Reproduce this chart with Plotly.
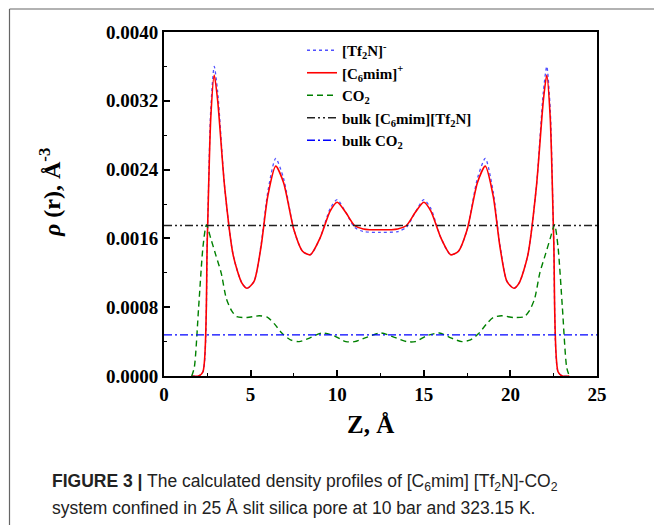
import plotly.graph_objects as go

# Density profiles across a 25 Å slit pore
z_cation = [1.6, 2.0, 2.25, 2.5, 2.7, 2.9, 3.1, 3.5, 4.0, 4.5, 4.8, 5.2, 5.6, 6.0, 6.45, 6.9, 7.5,
            8.0, 8.45, 9.0, 9.6, 10.0, 10.5, 11.0, 11.5, 12.5, 13.5, 14.0, 14.5, 15.0, 15.4,
            16.0, 16.55, 17.0, 17.5, 18.1, 18.55, 19.0, 19.4, 19.8, 20.2, 20.5, 21.0, 21.5,
            21.9, 22.1, 22.3, 22.5, 22.75, 23.0, 23.4]
rho_cation = [0.0, 0.0, 0.00005, 0.0016, 0.0030, 0.0035, 0.0032, 0.0022, 0.0014, 0.00108, 0.00102,
              0.00110, 0.00150, 0.00210, 0.00244, 0.00225, 0.00170, 0.00145, 0.00141, 0.00160,
              0.00192, 0.00202, 0.00190, 0.00175, 0.00171, 0.00170, 0.00171, 0.00175, 0.00190,
              0.00202, 0.00192, 0.00160, 0.00141, 0.00145, 0.00170, 0.00225, 0.00244, 0.00210,
              0.00150, 0.00110, 0.00102, 0.00108, 0.0014, 0.0022, 0.0032, 0.0035, 0.0030, 0.0016,
              0.00005, 0.0, 0.0]

z_anion = z_cation
rho_anion = [0.0, 0.0, 0.00005, 0.0016, 0.0031, 0.0036, 0.0033, 0.0022, 0.0014, 0.00108, 0.00102,
             0.00110, 0.00152, 0.00215, 0.00253, 0.00230, 0.00170, 0.00145, 0.00141, 0.00160,
             0.00195, 0.00205, 0.00190, 0.00173, 0.00168, 0.00167, 0.00168, 0.00173, 0.00190,
             0.00205, 0.00195, 0.00160, 0.00141, 0.00145, 0.00170, 0.00230, 0.00253, 0.00215,
             0.00152, 0.00110, 0.00102, 0.00108, 0.0014, 0.0022, 0.0033, 0.0036, 0.0031, 0.0016,
             0.00005, 0.0, 0.0]

z_co2 = [1.6, 1.75, 2.0, 2.25, 2.45, 2.7, 3.0, 3.3, 3.6, 3.9, 4.2, 4.8, 5.5, 6.0, 6.4, 6.8, 7.3,
         7.8, 8.4, 9.1, 9.8, 10.5, 11.0, 11.7, 12.5, 13.3, 14.0, 14.5, 15.2, 15.9, 16.6, 17.2,
         17.7, 18.2, 18.6, 19.0, 19.5, 20.2, 20.8, 21.1, 21.4, 21.7, 22.0, 22.3, 22.55, 22.75,
         23.0, 23.25, 23.4]
rho_co2 = [0.0, 0.0001, 0.0008, 0.0015, 0.00176, 0.0016, 0.0014, 0.0012, 0.0009, 0.00076, 0.00069,
           0.00068, 0.00070, 0.00068, 0.00060, 0.00050, 0.00042, 0.00040, 0.00044, 0.00050,
           0.00047, 0.00040, 0.00040, 0.00045, 0.00050, 0.00045, 0.00040, 0.00040, 0.00047,
           0.00050, 0.00044, 0.00040, 0.00042, 0.00050, 0.00060, 0.00068, 0.00070, 0.00068,
           0.00069, 0.00076, 0.0009, 0.0012, 0.0014, 0.0016, 0.00176, 0.0015, 0.0008, 0.0001, 0.0]

z_bulk = [0, 25]
rho_bulk_il = [0.00175, 0.00175]
rho_bulk_co2 = [0.000478, 0.000478]

x_ticks = [0, 5, 10, 15, 20, 25]
y_ticks = [0.0, 0.0008, 0.0016, 0.0024, 0.0032, 0.0040]

SERIF = "Liberation Serif, Times New Roman, serif"
SANS = "Liberation Sans, Arial, sans-serif"

fig = go.Figure()
fig.add_trace(go.Scatter(x=z_anion, y=rho_anion, mode="lines",
                         name="<b>[Tf<sub>2</sub>N]<sup>-</sup></b>",
                         line=dict(color="#5050ff", width=1.3, dash="dot", shape="spline", smoothing=0.7)))
fig.add_trace(go.Scatter(x=z_cation, y=rho_cation, mode="lines",
                         name="<b>[C<sub>6</sub>mim]<sup>+</sup></b>",
                         line=dict(color="#ff0000", width=1.6, shape="spline", smoothing=0.7)))
fig.add_trace(go.Scatter(x=z_co2, y=rho_co2, mode="lines",
                         name="<b>CO<sub>2</sub></b>",
                         line=dict(color="#008000", width=1.4, dash="6px,4px", shape="spline", smoothing=0.7)))
fig.add_trace(go.Scatter(x=z_bulk, y=rho_bulk_il, mode="lines",
                         name="<b>bulk [C<sub>6</sub>mim][Tf<sub>2</sub>N]</b>",
                         line=dict(color="#222222", width=1.3, dash="8px,3px,2px,3px,2px,3px")))
fig.add_trace(go.Scatter(x=z_bulk, y=rho_bulk_co2, mode="lines",
                         name="<b>bulk CO<sub>2</sub></b>",
                         line=dict(color="#0000ff", width=1.3, dash="8px,3px,2px,3px")))

L, R, T, B = 164, 57, 32, 149
W, H = 654, 525
pw, ph = W - L - R, H - T - B


def px_x(px):
    return (px - L) / pw


def px_y(py):
    return (H - B - py) / ph


axis_common = dict(showline=True, linewidth=2, linecolor="black", mirror=True,
                   ticks="inside", ticklen=6, tickwidth=1.5, tickcolor="black",
                   showgrid=False, zeroline=False,
                   tickfont=dict(family=SERIF, size=19, color="black"))

fig.update_xaxes(range=[0, 25], tickvals=x_ticks, ticktext=[f"<b>{v}</b>" for v in x_ticks],
                 minor=dict(ticks="inside", ticklen=3, tickwidth=1.2, tickcolor="black", dtick=2.5),
                 **axis_common)
fig.update_yaxes(range=[0, 0.004], tickvals=y_ticks, ticktext=[f"<b>{v:.4f}</b>" for v in y_ticks],
                 minor=dict(ticks="inside", ticklen=3, tickwidth=1.2, tickcolor="black", dtick=0.0004),
                 **axis_common)

annotations = [
    dict(text="<b>Z, Å</b>", x=px_x(370), y=px_y(424), xref="paper", yref="paper",
         xanchor="center", yanchor="middle",
         showarrow=False, font=dict(family=SERIF, size=25, color="black")),
    dict(text="<b><i>ρ</i> (r), Å<sup>-3</sup></b>", x=px_x(50), y=px_y(193), xref="paper", yref="paper",
         xanchor="center", yanchor="middle",
         showarrow=False, textangle=-90, font=dict(family=SERIF, size=24, color="black")),
    dict(text="<b>FIGURE 3 |</b> The calculated density profiles of [C<sub>6</sub>mim] [Tf<sub>2</sub>N]-CO<sub>2</sub>",
         x=px_x(50), y=px_y(483), xref="paper", yref="paper", xanchor="left", yanchor="middle",
         showarrow=False, font=dict(family=SANS, size=17.5, color="#222")),
    dict(text="system confined in 25 Å slit silica pore at 10 bar and 323.15 K.",
         x=px_x(50), y=px_y(508), xref="paper", yref="paper", xanchor="left", yanchor="middle",
         showarrow=False, font=dict(family=SANS, size=17.5, color="#222")),
]

shapes = [
    dict(type="line", xref="paper", yref="paper", x0=px_x(9.5), x1=px_x(9.5), y0=px_y(9), y1=px_y(525),
         line=dict(color="#666", width=1.2)),
    dict(type="line", xref="paper", yref="paper", x0=px_x(9.5), x1=px_x(654), y0=px_y(9), y1=px_y(9),
         line=dict(color="#666", width=1.2)),
]

fig.update_layout(
    width=W, height=H, margin=dict(l=L, r=R, t=T, b=B),
    paper_bgcolor="white", plot_bgcolor="white",
    showlegend=True,
    legend=dict(x=px_x(302), y=px_y(34), xanchor="left", yanchor="top",
                bgcolor="rgba(0,0,0,0)", tracegroupgap=0, itemwidth=30,
                font=dict(family=SERIF, size=15, color="black")),
    annotations=annotations, shapes=shapes,
)

fig.write_html("out.html")
